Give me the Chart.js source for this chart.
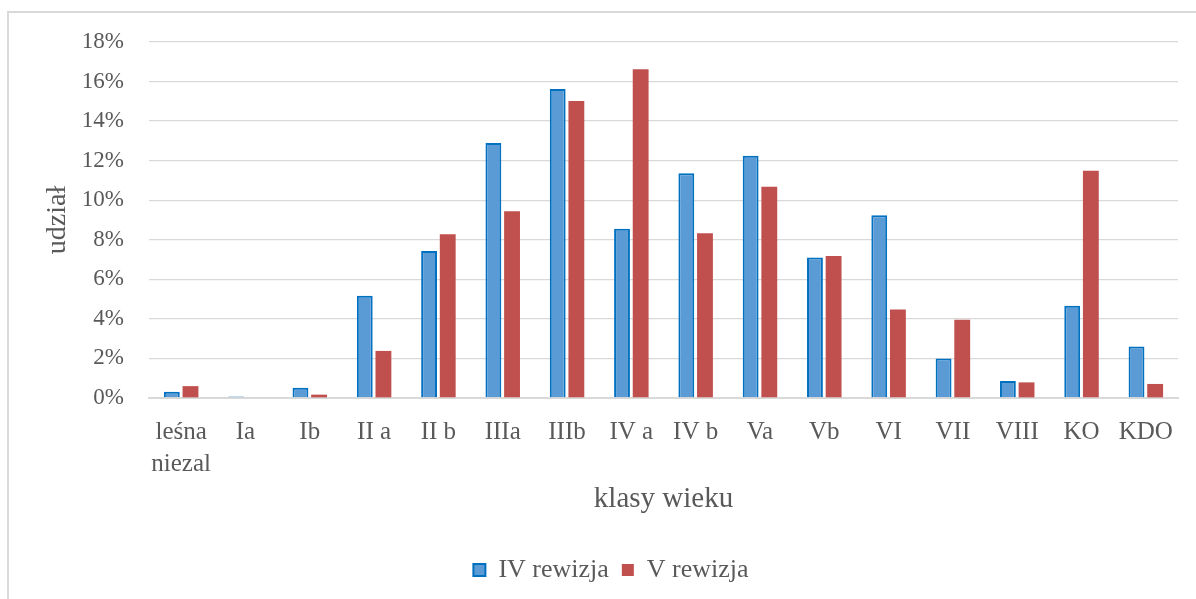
<!DOCTYPE html>
<html><head><meta charset="utf-8">
<script src="https://cdn.jsdelivr.net/npm/chart.js@4.4.0/dist/chart.umd.min.js"></script>
<style>
html,body{margin:0;padding:0;background:#fff;overflow:hidden;width:1196px;height:599px}
#frame{position:absolute;left:7px;top:11px;width:1200px;height:600px;border:2px solid #d9d9d9;box-sizing:border-box}
#c{position:absolute;left:0;top:0}
</style></head><body>
<div id="frame"></div>
<canvas id="c" width="1196" height="599"></canvas>
<script>
const categories = [['leśna','niezal'],'Ia','Ib','II a','II b','IIIa','IIIb','IV a','IV b','Va','Vb','VI','VII','VIII','KO','KDO'];
const seriesNames = ['IV rewizja','V rewizja'];
const rewizjaIV = [0.32,0.08,0.52,5.17,7.43,12.89,15.62,8.56,11.36,12.25,7.11,9.24,2.00,0.86,4.67,2.61];
const rewizjaV  = [0.60,0.00,0.17,2.38,8.28,9.44,15.02,16.62,8.33,10.68,7.18,4.47,3.96,0.79,11.49,0.71];
const yTickValues = [0,2,4,6,8,10,12,14,16,18];
const yTitle = 'udział';
const xTitle = 'klasy wieku';

const FONT = "'Liberation Serif', 'Times New Roman', serif";
const TXT = '#595959';

const legendShift = {
  id: 'legendShift',
  afterLayout(chart) {
    const lg = chart.legend;
    if (lg) { lg.left += 18; lg.right += 18; }
  }
};

new Chart(document.getElementById('c'), {
  type: 'bar',
  data: {
    labels: categories,
    datasets: [
      { label: seriesNames[0], data: rewizjaIV, backgroundColor: '#5B9BD5', borderColor: '#0070C0', borderWidth: 2,
        categoryPercentage: 0.58, barPercentage: 0.85 },
      { label: seriesNames[1], data: rewizjaV, backgroundColor: '#C0504D', borderColor: '#C0504D', borderWidth: 0,
        categoryPercentage: 0.58, barPercentage: 0.85 }
    ]
  },
  plugins: [legendShift],
  options: {
    responsive: false,
    animation: false,
    layout: { padding: { left: 8, right: 18, top: 42, bottom: 6 } },
    plugins: {
      tooltip: { enabled: false },
      legend: {
        position: 'bottom',
        labels: { font: { family: FONT, size: 26 }, color: TXT, boxWidth: 12, boxHeight: 12, padding: 13 }
      }
    },
    scales: {
      x: {
        grid: { display: false },
        border: { display: true, color: '#d9d9d9', width: 2 },
        ticks: { font: { family: FONT, size: 25, lineHeight: 1.27 }, color: TXT, padding: 11, maxRotation: 0, autoSkip: false },
        title: { display: true, text: xTitle, font: { family: FONT, size: 29 }, color: TXT, padding: { top: 0, bottom: 27 } },
        afterFit: s => { s.height = 146; }
      },
      y: {
        min: 0, max: 18,
        afterBuildTicks: s => { s.ticks = yTickValues.map(v => ({ value: v })); },
        grid: { color: '#d9d9d9', lineWidth: 1.3, drawTicks: false },
        border: { display: false },
        ticks: { font: { family: FONT, size: 23 }, color: TXT, padding: 25, callback: v => v + '%' },
        title: { display: true, text: yTitle, font: { family: FONT, size: 28 }, color: TXT, padding: { top: 33, bottom: 0 } },
        afterFit: s => { s.width = 141; }
      }
    }
  }
});
</script>
</body></html>
